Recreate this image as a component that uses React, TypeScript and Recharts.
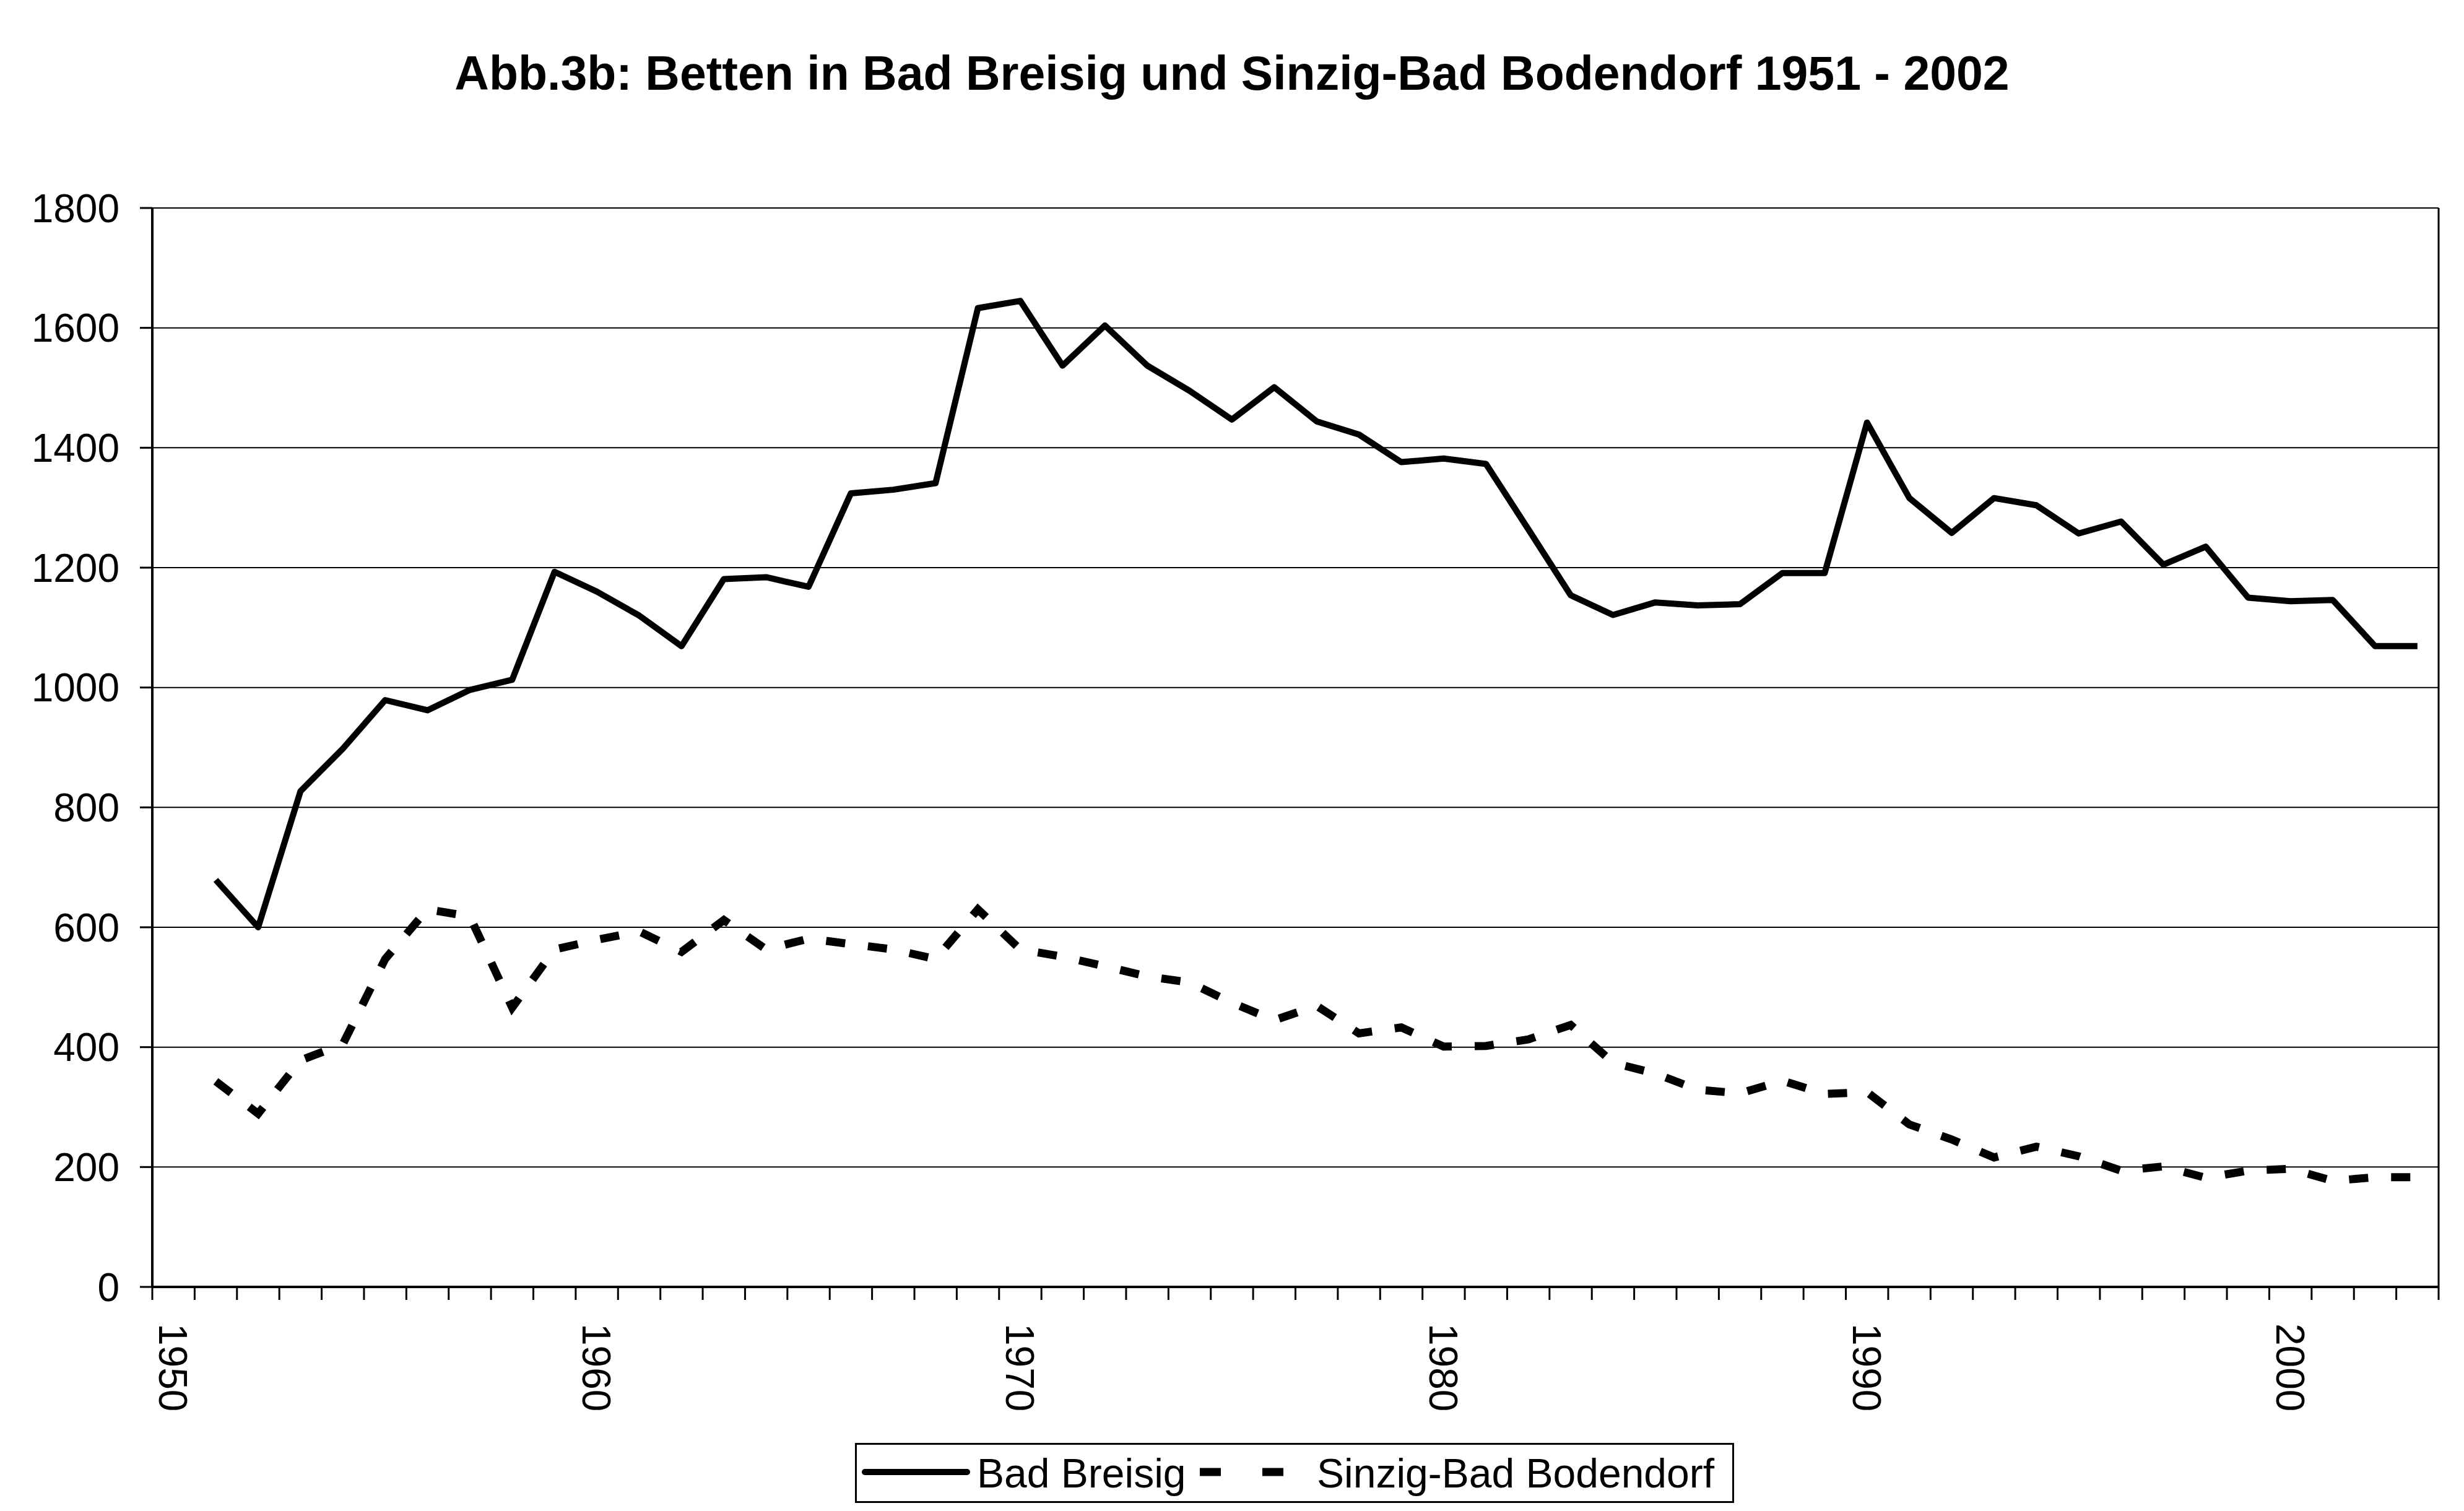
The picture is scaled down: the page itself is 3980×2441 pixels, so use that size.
import React from 'react';
import { LineChart, Line, XAxis, YAxis, CartesianGrid, ReferenceLine } from 'recharts';

const years = [
  1951, 1952, 1953, 1954, 1955, 1956, 1957, 1958, 1959, 1960,
  1961, 1962, 1963, 1964, 1965, 1966, 1967, 1968, 1969, 1970,
  1971, 1972, 1973, 1974, 1975, 1976, 1977, 1978, 1979, 1980,
  1981, 1982, 1983, 1984, 1985, 1986, 1987, 1988, 1989, 1990,
  1991, 1992, 1993, 1994, 1995, 1996, 1997, 1998, 1999, 2000,
  2001, 2002, 2003,
];

const badBreisig = [
  679, 600, 827, 898, 979, 962, 996, 1013, 1193, 1160,
  1120, 1069, 1181, 1184, 1168, 1324, 1330, 1341, 1633, 1645,
  1537, 1604, 1537, 1495, 1447, 1501, 1444, 1422, 1376, 1382,
  1373, 1264, 1154, 1121, 1142, 1137, 1139, 1191, 1191, 1442,
  1316, 1258, 1316, 1304, 1257, 1277, 1205, 1235, 1150, 1144,
  1146, 1069, 1069,
];

const sinzigBodendorf = [
  343, 289, 378, 405, 547, 630, 618, 466, 563, 579,
  593, 559, 612, 563, 581, 572, 563, 547, 630, 563,
  551, 535, 518, 508, 474, 445, 469, 423, 433, 401,
  402, 413, 437, 374, 356, 329, 323, 344, 322, 325,
  271, 246, 216, 234, 218, 194, 201, 182, 194, 197,
  177, 183, 183,
];

const yTicks = [0, 200, 400, 600, 800, 1000, 1200, 1400, 1600, 1800];
const decadeLabels = [1950, 1960, 1970, 1980, 1990, 2000];

// category boundaries (Excel puts tick marks between categories)
const firstYear = 1950;
const lastYear = 2003;
const boundaryTicks = Array.from({ length: lastYear - firstYear + 2 }, (_, i) => firstYear - 0.5 + i);

const data = years.map((year, i) => ({
  year,
  breisig: badBreisig[i],
  sinzig: sinzigBodendorf[i],
}));

const FONT = '"Liberation Sans", Arial, sans-serif';
const W = 3980;
const H = 2441;

const YearTick = (props: any) => {
  const { x, y, payload } = props;
  return (
    <text
      x={x}
      y={y}
      dx={29}
      dy="0.36em"
      transform={`rotate(90, ${x}, ${y})`}
      textAnchor="start"
      fontFamily={FONT}
      fontSize={64}
      fill="#000"
    >
      {payload.value}
    </text>
  );
};

export default function App() {
  return (
    <div style={{ position: 'absolute', left: 0, top: 0, width: W, height: H, background: '#fff' }}>
      <div
        style={{
          position: 'absolute',
          left: 0,
          top: 80,
          width: W,
          textAlign: 'center',
          fontFamily: FONT,
          fontWeight: 'bold',
          fontSize: 77,
          lineHeight: 1,
          color: '#000',
        }}
      >
        Abb.3b: Betten in Bad Breisig und Sinzig-Bad Bodendorf 1951 - 2002
      </div>

      <LineChart width={W} height={H} data={data} margin={{ top: 336, right: 41, left: 0, bottom: 132 }}>
        <CartesianGrid xAxisId="a" vertical={false} stroke="#000" strokeWidth={2} />
        <XAxis
          xAxisId="a"
          dataKey="year"
          type="number"
          domain={[firstYear - 0.5, lastYear + 0.5]}
          ticks={boundaryTicks}
          interval={0}
          tickFormatter={() => ''}
          tickSize={21}
          height={30}
          axisLine={{ stroke: '#000', strokeWidth: 4 }}
          tickLine={{ stroke: '#000', strokeWidth: 3 }}
        />
        <XAxis
          xAxisId="b"
          dataKey="year"
          type="number"
          domain={[firstYear - 0.5, lastYear + 0.5]}
          ticks={decadeLabels}
          interval={0}
          tick={<YearTick />}
          tickSize={0}
          tickMargin={0}
          height={200}
          axisLine={false}
          tickLine={false}
        />
        <YAxis
          domain={[0, 1800]}
          ticks={yTicks}
          interval={0}
          width={246}
          tickSize={20}
          tickMargin={33}
          axisLine={{ stroke: '#000', strokeWidth: 4 }}
          tickLine={{ stroke: '#000', strokeWidth: 3 }}
          tick={{ fontFamily: FONT, fontSize: 64, fill: '#000' }}
        />
        <ReferenceLine xAxisId="a" x={lastYear + 0.5} stroke="#000" strokeWidth={3} />
        <Line
          xAxisId="a"
          type="linear"
          dataKey="breisig"
          stroke="#000"
          strokeWidth={10}
          strokeLinejoin="round"
          dot={false}
          activeDot={false}
          isAnimationActive={false}
        />
        <Line
          xAxisId="a"
          type="linear"
          dataKey="sinzig"
          stroke="#000"
          strokeWidth={13}
          strokeDasharray="31 37"
          dot={false}
          activeDot={false}
          isAnimationActive={false}
        />
      </LineChart>

      <svg
        width={1420}
        height={97}
        style={{ position: 'absolute', left: 1381, top: 2331 }}
      >
        <rect x={1.5} y={1.5} width={1417} height={94} fill="#fff" stroke="#000" strokeWidth={3} />
        <line x1={16} y1={47} x2={181} y2={47} stroke="#000" strokeWidth={10} strokeLinecap="round" />
        <text x={197} y={72} fontFamily={FONT} fontSize={66} fill="#000">
          Bad Breisig
        </text>
        <line x1={557} y1={47} x2={692} y2={47} stroke="#000" strokeWidth={13} strokeDasharray="34 67" />
        <text x={746} y={72} fontFamily={FONT} fontSize={66} fill="#000">
          Sinzig-Bad Bodendorf
        </text>
      </svg>
    </div>
  );
}
